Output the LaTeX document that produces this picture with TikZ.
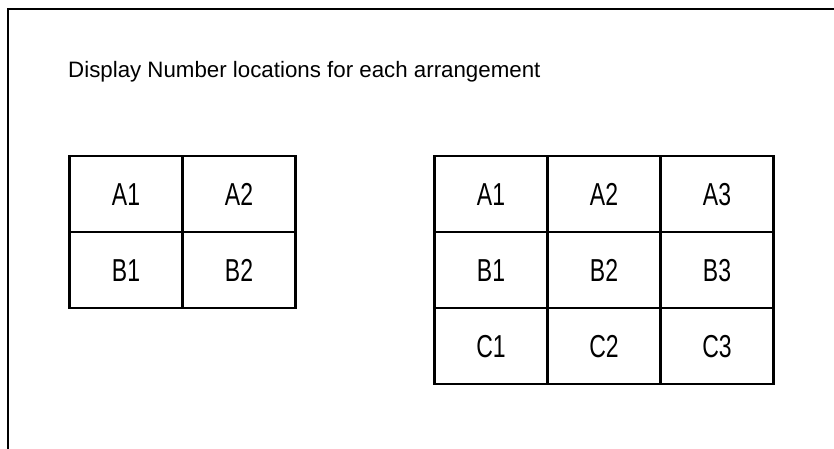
\documentclass[tikz,border=0pt]{standalone}
\usepackage{fontspec}
\setmainfont{Liberation Sans}
\newcommand{\tallcell}[1]{\scalebox{1}[1.38]{#1}}
\begin{document}
\begin{tikzpicture}[x=1pt,y=-1pt,
  cell/.style={draw,line width=2.4pt,minimum width=113pt,minimum height=76pt,inner sep=0pt,
    text height=22.7pt,text depth=0pt,font=\fontsize{23}{26}\selectfont},
  frame/.style={line width=2pt},
  title/.style={anchor=west,inner sep=0pt,font=\fontsize{22.3}{26}\selectfont}]
\useasboundingbox (0,0) rectangle (834,448);
\draw[frame] (845,9) -- (8,9) -- (8,460);
\node[title] (t) at (68,72) {Display Number locations for each arrangement};
% left table
\node[cell] (la1) at (126,194) {\tallcell{A1}};
\node[cell] (la2) at (239,194) {\tallcell{A2}};
\node[cell] (lb1) at (126,270) {\tallcell{B1}};
\node[cell] (lb2) at (239,270) {\tallcell{B2}};
% right table
\node[cell] (ra1) at (491,194) {\tallcell{A1}};
\node[cell] (ra2) at (604,194) {\tallcell{A2}};
\node[cell] (ra3) at (717,194) {\tallcell{A3}};
\node[cell] (rb1) at (491,270) {\tallcell{B1}};
\node[cell] (rb2) at (604,270) {\tallcell{B2}};
\node[cell] (rb3) at (717,270) {\tallcell{B3}};
\node[cell] (rc1) at (491,346) {\tallcell{C1}};
\node[cell] (rc2) at (604,346) {\tallcell{C2}};
\node[cell] (rc3) at (717,346) {\tallcell{C3}};
\end{tikzpicture}
\end{document}
